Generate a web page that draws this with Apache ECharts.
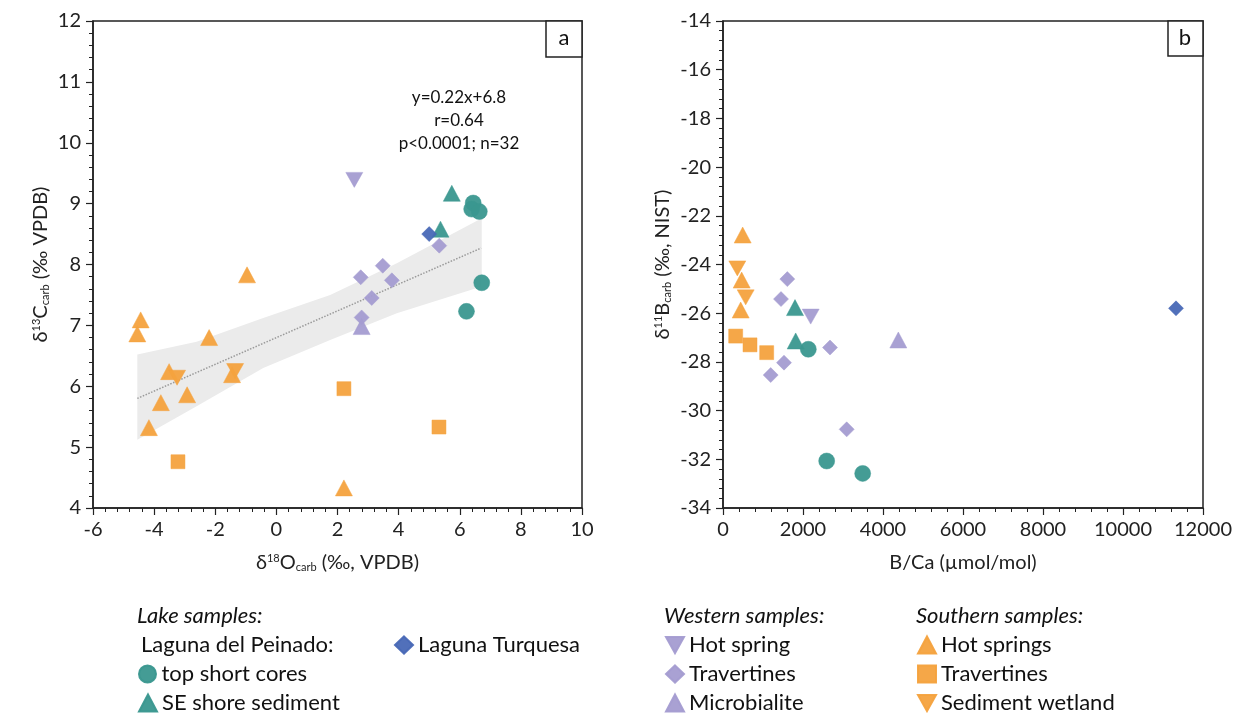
<!DOCTYPE html>
<html>
<head>
<meta charset="utf-8">
<script src="https://cdn.jsdelivr.net/npm/echarts@6/dist/echarts.min.js"></script>
<style>
  html, body { margin: 0; padding: 0; background: #fff; }
  #main { width: 1242px; height: 713px; }
</style>
</head>
<body>
<div id="main"></div>
<script>
var FONT = 'Lato';

// colours
var teal = '#3a978f';
var orange = '#f4a23e';
var purple = '#a49cd1';
var blue = '#4868b6';

// panel a: d18O (x) vs d13C (y)
var coresA = [[6.44, 9.01], [6.39, 8.91], [6.64, 8.87], [6.72, 7.70], [6.22, 7.23]];
var shoreA = [[5.74, 9.17], [5.37, 8.58]];
var turquesaA = [[5.0, 8.5]];
var wHotA = [[2.55, 9.39]];
var wTravA = [[3.48, 7.98], [2.76, 7.79], [3.78, 7.74], [3.12, 7.45], [2.79, 7.13], [5.33, 8.31]];
var wMicroA = [[2.79, 6.98]];
var sHotA = [[-0.96, 7.83], [-4.44, 7.09], [-4.55, 6.86], [-2.2, 6.8], [-3.51, 6.24], [-2.92, 5.86],
  [-3.78, 5.73], [-4.17, 5.32], [-1.45, 6.19], [2.21, 4.33]];
var sTravA = [[2.21, 5.96], [5.32, 5.33], [-3.22, 4.76]];
var sWetA = [[-3.25, 6.14], [-1.35, 6.25]];

// regression line and its confidence band
var regLine = [[-4.55, 5.80], [6.7, 8.27]];
var bandX = [-4.55, -2.61, -0.43, 1.76, 3.94, 6.72];
var bandUpper = [6.52, 6.73, 7.12, 7.50, 8.02, 8.76];
var bandLower = [5.12, 5.67, 6.30, 6.76, 7.20, 7.64];

// panel b: B/Ca (x) vs d11B (y)
var coresB = [[2133, -27.48], [2592, -32.07], [3492, -32.58]];
var shoreB = [[1800, -25.77], [1817, -27.14]];
var turquesaB = [[11325, -25.8]];
var wHotB = [[2192, -26.14]];
var wTravB = [[1608, -24.6], [1450, -25.42], [1525, -28.03], [1192, -28.54], [2675, -27.41], [3092, -30.77]];
var wMicroB = [[4383, -27.1]];
var sHotB = [[492, -22.79], [467, -24.64], [442, -25.87]];
var sTravB = [[317, -26.94], [675, -27.3], [1092, -27.62]];
var sWetB = [[358, -24.16], [567, -25.35]];

var downTri = 'path://M0,0L20,0L10,18Z';

var chart = echarts.init(document.getElementById('main'));

function axisCommon() {
  return {
    axisLine: { show: true, onZero: false, lineStyle: { color: '#222', width: 1.5 } },
    axisTick: { show: true, length: 7, lineStyle: { color: '#222', width: 1.2 } },
    minorTick: { show: true, splitNumber: 5, length: 4, lineStyle: { color: '#222', width: 1 } },
    splitLine: { show: false },
    axisLabel: { color: '#222', fontSize: 20, fontFamily: FONT, margin: 12 },
    nameTextStyle: {
      color: '#222', fontSize: 20, fontFamily: FONT,
      rich: {
        sup: { fontSize: 11, fontFamily: FONT, verticalAlign: 'top', lineHeight: 12, color: '#222' },
        sub: { fontSize: 11, fontFamily: FONT, verticalAlign: 'bottom', lineHeight: 12, color: '#222' }
      }
    }
  };
}

function makeAxis(extra) {
  var a = axisCommon();
  for (var k in extra) a[k] = extra[k];
  return a;
}

function sc(name, data, symbol, color, size, gi) {
  return {
    name: name,
    type: 'scatter',
    xAxisIndex: gi,
    yAxisIndex: gi,
    data: data,
    symbol: symbol,
    symbolSize: size,
    z: 5,
    itemStyle: { color: color, opacity: 0.95, borderColor: color, borderWidth: 0.5 }
  };
}

var series = [
  {
    type: 'custom',
    xAxisIndex: 0,
    yAxisIndex: 0,
    silent: true,
    z: 1,
    data: [[bandX[0], bandUpper[0]]],
    renderItem: function (params, api) {
      var pts = [];
      for (var i = 0; i < bandX.length; i++) pts.push(api.coord([bandX[i], bandUpper[i]]));
      for (var j = bandX.length - 1; j >= 0; j--) pts.push(api.coord([bandX[j], bandLower[j]]));
      return { type: 'polygon', shape: { points: pts }, style: { fill: '#ebebeb' } };
    }
  },
  {
    type: 'line',
    xAxisIndex: 0,
    yAxisIndex: 0,
    data: regLine,
    symbol: 'none',
    silent: true,
    z: 2,
    lineStyle: { color: '#9a9a9a', width: 1.5, type: 'dotted' }
  }
];

// name, panel a data, panel b data, symbol, colour, size, legend row [left, top]
var groups = [
  ['top short cores', coresA, coresB, 'circle', teal, 16, [138, 663]],
  ['SE shore sediment', shoreA, shoreB, 'triangle', teal, [17, 16], [138, 692]],
  ['Laguna Turquesa', turquesaA, turquesaB, 'diamond', blue, 15, [394, 634]],
  ['Hot spring', wHotA, wHotB, downTri, purple, [17, 15], [665, 634]],
  ['W Travertines', wTravA, wTravB, 'diamond', purple, 15, [665, 663]],
  ['Microbialite', wMicroA, wMicroB, 'triangle', purple, [17, 16], [665, 692]],
  ['Hot springs', sHotA, sHotB, 'triangle', orange, [17, 16], [917, 634]],
  ['S Travertines', sTravA, sTravB, 'rect', orange, 14, [917, 663]],
  ['Sediment wetland', sWetA, sWetB, downTri, orange, [17, 15], [917, 692]]
];
var legends = [];
groups.forEach(function (g) {
  series.push(sc(g[0], g[1], g[3], g[4], g[5], 0));
  series.push(sc(g[0], g[2], g[3], g[4], g[5], 1));
  legends.push({
    data: [g[0]],
    left: g[6][0],
    top: g[6][1],
    itemWidth: 18,
    itemHeight: 17,
    selectedMode: false,
    padding: 0,
    textStyle: { fontSize: 22, fontFamily: FONT, color: '#111', lineHeight: 22 },
    formatter: function (n) { return n.replace(/^[WS] /, ''); }
  });
});

var option = {
  animation: false,
  backgroundColor: '#fff',
  grid: [
    { left: 93, top: 21, width: 489, height: 487, show: true, borderColor: '#222', borderWidth: 1.5 },
    { left: 723, top: 21, width: 480, height: 487, show: true, borderColor: '#222', borderWidth: 1.5 }
  ],
  xAxis: [
    makeAxis({
      type: 'value', gridIndex: 0, min: -6, max: 10, interval: 2,
      name: 'δ{sup|18}O{sub|carb} (‰, VPDB)', nameLocation: 'middle', nameGap: 45
    }),
    makeAxis({
      type: 'value', gridIndex: 1, min: 0, max: 12000, interval: 2000,
      name: 'B/Ca (µmol/mol)', nameLocation: 'middle', nameGap: 45
    })
  ],
  yAxis: [
    makeAxis({
      type: 'value', gridIndex: 0, min: 4, max: 12, interval: 1,
      name: 'δ{sup|13}C{sub|carb} (‰ VPDB)', nameLocation: 'middle', nameGap: 42
    }),
    makeAxis({
      type: 'value', gridIndex: 1, min: -34, max: -14, interval: 2,
      name: 'δ{sup|11}B{sub|carb} (‰, NIST)', nameLocation: 'middle', nameGap: 50
    })
  ],
  legend: legends,
  graphic: [
    { type: 'rect', shape: { x: 546, y: 21, width: 36, height: 36 }, style: { fill: '#fff', stroke: '#222', lineWidth: 1.5 }, z: 10 },
    { type: 'text', x: 564, y: 38, style: { text: 'a', font: '22px ' + FONT, fill: '#111', align: 'center', verticalAlign: 'middle' }, z: 11 },
    { type: 'rect', shape: { x: 1168, y: 21, width: 35, height: 35 }, style: { fill: '#fff', stroke: '#222', lineWidth: 1.5 }, z: 10 },
    { type: 'text', x: 1185, y: 38, style: { text: 'b', font: '22px ' + FONT, fill: '#111', align: 'center', verticalAlign: 'middle' }, z: 11 },
    { type: 'text', x: 459, y: 121, style: { text: 'y=0.22x+6.8\nr=0.64\np<0.0001; n=32', font: '17px ' + FONT, lineHeight: 23, fill: '#111', align: 'center', verticalAlign: 'middle' }, z: 11 },
    { type: 'text', x: 137, y: 616, style: { text: 'Lake samples:', font: 'italic 22px ' + FONT, fill: '#111', verticalAlign: 'middle' } },
    { type: 'text', x: 141, y: 645, style: { text: 'Laguna del Peinado:', font: '22px ' + FONT, fill: '#111', verticalAlign: 'middle' } },
    { type: 'text', x: 664, y: 616, style: { text: 'Western samples:', font: 'italic 22px ' + FONT, fill: '#111', verticalAlign: 'middle' } },
    { type: 'text', x: 916, y: 616, style: { text: 'Southern samples:', font: 'italic 22px ' + FONT, fill: '#111', verticalAlign: 'middle' } }
  ],
  series: series
};

option.xAxis[1].axisLabel = { color: '#222', fontSize: 20, fontFamily: FONT, margin: 12, formatter: function (v) { return String(v); } };

chart.setOption(option);
</script>
</body>
</html>
